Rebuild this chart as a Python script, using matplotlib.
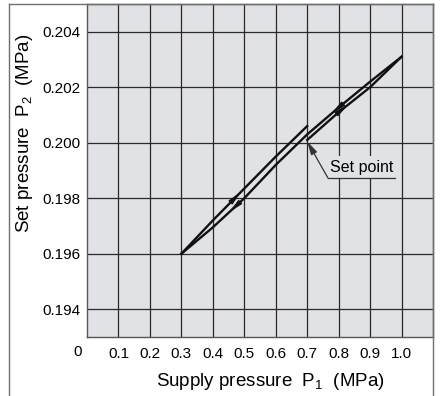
import numpy as np
import matplotlib.pyplot as plt
from matplotlib.lines import Line2D

plt.rcParams['font.family'] = ['Liberation Sans', 'DejaVu Sans']

# P1 supply pressure (MPa) vs P2 set pressure (MPa)
p1_up_set = [0.7, 0.8, 0.9, 1.0]
p2_up_set = [0.2001, 0.2011, 0.2020, 0.2031]
p1_down = [1.0, 0.9, 0.8, 0.7, 0.6, 0.5, 0.4, 0.3]
p2_down = [0.2031, 0.2022, 0.20127, 0.2003, 0.1992, 0.1980, 0.19695, 0.1960]
p1_up_low = [0.3, 0.4, 0.5, 0.6, 0.7]
p2_up_low = [0.1960, 0.1972, 0.19835, 0.1995, 0.2006]

x_ticks = [0.1, 0.2, 0.3, 0.4, 0.5, 0.6, 0.7, 0.8, 0.9, 1.0]
x_labels = ['0.1', '0.2', '0.3', '0.4', '0.5', '0.6', '0.7', '0.8', '0.9', '1.0']
y_ticks = [0.194, 0.196, 0.198, 0.200, 0.202, 0.204]
y_labels = ['0.194', '0.196', '0.198', '0.200', '0.202', '0.204']
set_point = (0.7, 0.20005)

bg = '#e1e2e5'
fig = plt.figure(figsize=(4.42, 3.96), dpi=100)
ax = fig.add_axes([87 / 442, 1 - 337 / 396, 346 / 442, 333 / 396])
ax.set_facecolor(bg)
ax.set_xlim(0, 1.1)
ax.set_ylim(0.193, 0.205)

ax.set_xticks(x_ticks)
ax.set_xticklabels(x_labels)
ax.set_yticks(y_ticks)
ax.set_yticklabels(y_labels)
ax.tick_params(length=0, labelsize=11, pad=7)
ax.tick_params(axis='y', pad=5)
ax.grid(True, color='#2a2a2a', lw=0.9)
ax.set_axisbelow(True)
for s in ax.spines.values():
    s.set_color('#555555')
    s.set_linewidth(1.0)

ax.text(-0.026, -0.045, '0', transform=ax.transAxes, ha='center', va='center', fontsize=11)

ax.plot(p1_up_set, p2_up_set, color='#111111', lw=1.7, zorder=3)
ax.plot(p1_down, p2_down, color='#111111', lw=1.7, zorder=3)
ax.plot(p1_up_low, p2_up_low, color='#111111', lw=1.7, zorder=3)


def arrow_on(xs, ys, x0, x1):
    order = np.argsort(xs)
    xa = np.array(xs)[order]
    ya = np.array(ys)[order]
    ax.annotate('', xy=(x1, np.interp(x1, xa, ya)), xytext=(x0, np.interp(x0, xa, ya)),
                arrowprops=dict(arrowstyle='-|>,head_length=0.8,head_width=0.15',
                                color='#111111', lw=1.0, shrinkA=0, shrinkB=0), zorder=4)


arrow_on(p1_up_low, p2_up_low, 0.465, 0.49)
arrow_on(p1_down, p2_down, 0.48, 0.452)
arrow_on(p1_down, p2_down, 0.805, 0.778)
arrow_on(p1_up_set, p2_up_set, 0.80, 0.83)

# set point leader
ax.text(0.771, 0.19885, 'Set point', fontsize=11.5, ha='left', va='bottom', zorder=5,
        bbox=dict(facecolor=bg, edgecolor='none', pad=2.5))
ax.plot([0.766, 0.978], [0.19873, 0.19873], color='#333333', lw=0.9, zorder=6)
ax.annotate('', xy=set_point, xytext=(0.766, 0.19873),
            arrowprops=dict(arrowstyle='-|>,head_length=0.8,head_width=0.2',
                            color='#333333', lw=0.9, shrinkA=0, shrinkB=0), zorder=6)

fig.text(270 / 442, 1 - 382 / 396, r'Supply pressure  P$\mathregular{_1}$  (MPa)',
         ha='center', va='center', fontsize=13.5)
fig.text(25 / 442, 1 - 133 / 396, r'Set pressure  P$\mathregular{_2}$  (MPa)',
         ha='center', va='center', rotation=90, fontsize=13.5)

# outer frame
fc = '#707070'
fig.add_artist(Line2D([9 / 442, 9 / 442], [0, 1 - 4 / 396], color=fc, lw=1.0))
fig.add_artist(Line2D([433 / 442, 433 / 442], [0, 1 - 4 / 396], color=fc, lw=1.0))
fig.add_artist(Line2D([9 / 442, 433 / 442], [1 - 4 / 396, 1 - 4 / 396], color=fc, lw=1.0))

fig.savefig('out.png', dpi=100)
